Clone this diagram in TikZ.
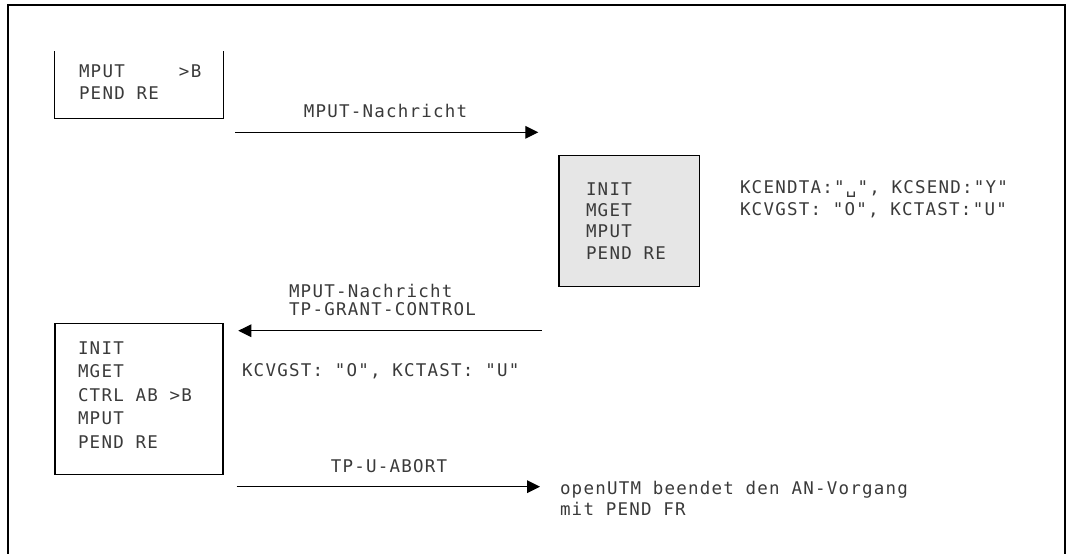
\documentclass[tikz,border=0pt]{standalone}
\usepackage{fontspec}
\newfontfamily\monofont[LetterSpace=7]{DejaVu Sans Mono}
\usetikzlibrary{arrows.meta}
\definecolor{txt}{HTML}{3A3A3A}
\definecolor{boxgray}{HTML}{E6E6E6}
\tikzset{
  lbl/.style={inner sep=0pt, outer sep=0pt, text=txt, font=\monofont\fontsize{17.5}{22}\selectfont, anchor=base west},
  clbl/.style={lbl, anchor=base},
  boxnode/.style={rectangle, inner sep=0pt, line width=1.2pt},
  msg/.style={line width=1.2pt, -{Triangle[length=13pt,width=12.6pt]}},
  frame/.style={line width=1.2pt}
}
\begin{document}
\begin{tikzpicture}[x=1pt,y=-1pt]
\useasboundingbox (0,0) rectangle (1072,554);
% outer frame (open at the bottom)
\draw[frame] (8,554) -- (8,5) -- (1065,5) -- (1065,554);

% box 1 (open top)
\node[boxnode, minimum width=168pt, minimum height=65.7pt] (b1) at (139,84.85) {};
\draw[line width=1.2pt] (b1.north west) -- (b1.south west) -- (b1.south east) -- (b1.north east);
\node[lbl] (b1a) at (79,77) {\makebox[100pt][l]{MPUT}>B};
\node[lbl] (b1b) at (79,99) {PEND RE};

% arrow 1
\coordinate (a1s) at (235,132.3);
\coordinate (a1e) at (538.3,132.3);
\draw[msg] (a1s) -- (a1e);
\node[clbl] (a1l) at (385.5,117.3) {MPUT-Nachricht};

% box 2 (grey)
\node[boxnode, draw, fill=boxgray, minimum width=140.3pt, minimum height=131pt] (b2) at (629.2,221.2) {};
\node[lbl] (b2a) at (586,195) {INIT};
\node[lbl] (b2b) at (586,216.3) {MGET};
\node[lbl] (b2c) at (586,237.7) {MPUT};
\node[lbl] (b2d) at (586,259) {PEND RE};
\node[lbl] (k1) at (740,193.3) {KCENDTA:"␣", KCSEND:"Y"};
\node[lbl] (k2) at (740,215) {KCVGST: "O", KCTAST:"U"};

% arrow 2
\coordinate (a2s) at (541.7,330.7);
\coordinate (a2e) at (238.3,330.7);
\draw[msg] (a2s) -- (a2e);
\node[lbl] (a2l1) at (289,297.3) {MPUT-Nachricht};
\node[lbl] (a2l2) at (289,315) {TP-GRANT-CONTROL};
\node[lbl] (k3) at (242,376.7) {KCVGST: "O", KCTAST: "U"};

% box 3
\node[boxnode, draw, minimum width=168pt, minimum height=151pt] (b3) at (139,398.8) {};
\node[lbl] (b3a) at (78,354.3) {INIT};
\node[lbl] (b3b) at (78,377.8) {MGET};
\node[lbl] (b3c) at (78,401.3) {CTRL AB >B};
\node[lbl] (b3d) at (78,424.8) {MPUT};
\node[lbl] (b3e) at (78,448.3) {PEND RE};

% arrow 3
\coordinate (a3s) at (236.7,486.7);
\coordinate (a3e) at (540,486.7);
\draw[msg] (a3s) -- (a3e);
\node[clbl] (a3l) at (389,472.7) {TP-U-ABORT};
\node[lbl] (e1) at (560,494.3) {openUTM beendet den AN-Vorgang};
\node[lbl] (e2) at (560,515) {mit PEND FR};
\end{tikzpicture}
\end{document}
